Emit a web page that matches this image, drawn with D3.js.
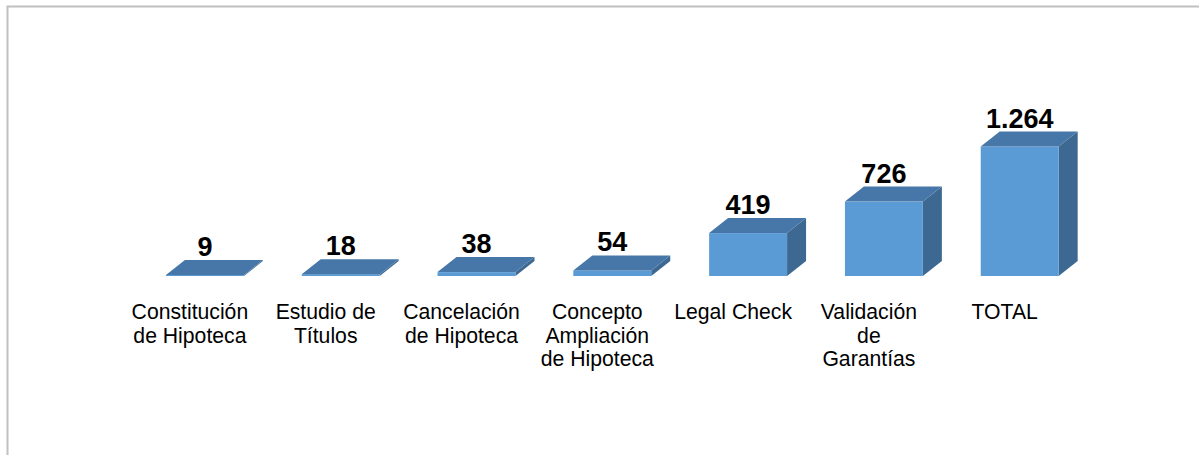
<!DOCTYPE html>
<html>
<head>
<meta charset="utf-8">
<script src="https://cdn.jsdelivr.net/npm/d3@7"></script>
<style>
html,body{margin:0;padding:0;background:#fff;}
svg{display:block;}
</style>
</head>
<body>
<svg id="chart" width="1199" height="455"></svg>
<script>
const categories = [
  ["Constitución", "de Hipoteca"],
  ["Estudio de", "Títulos"],
  ["Cancelación", "de Hipoteca"],
  ["Concepto", "Ampliación", "de Hipoteca"],
  ["Legal Check"],
  ["Validación", "de", "Garantías"],
  ["TOTAL"]
];
const values = [9, 18, 38, 54, 419, 726, 1264];
const valueLabels = ["9", "18", "38", "54", "419", "726", "1.264"];

const svg = d3.select("#chart");
const W = 1199, H = 455;

// frame (left and top border)
svg.append("path")
  .attr("d", `M7.5,${H} L7.5,6.5 L${W},6.5`)
  .attr("fill", "none").attr("stroke", "#c0c0c0").attr("stroke-width", 2);

const keys = categories.map((d, i) => i);
const x = d3.scaleBand().domain(keys).range([137, 1087.6]).paddingInner(0.426).paddingOuter(0.213);
const baseY = 276;
const y = d3.scaleLinear().domain([0, 1264]).range([baseY, 146.5]);
const dx = 19, dy = 15;

const g = svg.append("g");
keys.forEach(i => {
  const x0 = x(i), w = x.bandwidth();
  const yt = Math.min(y(values[i]), baseY - 1);
  // side
  g.append("path")
    .attr("d", `M${x0 + w},${yt} L${x0 + w + dx},${yt - dy} L${x0 + w + dx},${baseY - dy} L${x0 + w},${baseY} Z`)
    .attr("fill", "#3c6892");
  // front
  g.append("rect")
    .attr("x", x0).attr("y", yt).attr("width", w).attr("height", baseY - yt)
    .attr("fill", "#5b9bd5");
  // top
  g.append("path")
    .attr("d", `M${x0},${yt} L${x0 + dx},${yt - dy} L${x0 + w + dx},${yt - dy} L${x0 + w},${yt} Z`)
    .attr("fill", "#4677a8");
  // value label
  g.append("text")
    .attr("x", x0 + w / 2).attr("y", yt - dy - 4)
    .attr("text-anchor", "middle")
    .attr("font-family", "'Liberation Sans', Arial, sans-serif")
    .attr("font-weight", "bold").attr("font-size", 27)
    .attr("fill", "#000")
    .text(valueLabels[i]);
  // category label
  const t = g.append("text")
    .attr("text-anchor", "middle")
    .attr("font-family", "'Liberation Sans', Arial, sans-serif")
    .attr("font-size", 21.2).attr("fill", "#000");
  categories[i].forEach((line, k) => {
    t.append("tspan").attr("x", x0 + w / 2 - 15).attr("y", 319 + k * 23.7).text(line);
  });
});
</script>
</body>
</html>
